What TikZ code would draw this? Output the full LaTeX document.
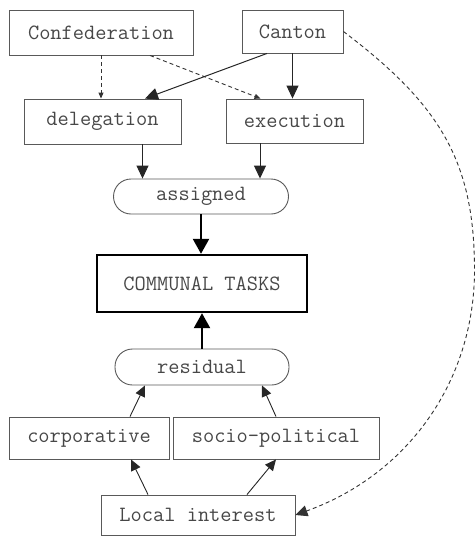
\documentclass[tikz,border=0pt]{standalone}
\usetikzlibrary{arrows.meta}
\definecolor{ink}{gray}{0.28}
\definecolor{edge}{gray}{0.35}
\tikzset{
  box/.style={draw=edge, line width=0.9pt, rectangle, inner sep=0pt, text=ink,
              font=\ttfamily\fontsize{21.8}{24}\selectfont},
  pill/.style={box, rounded corners=17.5pt},
  bigbox/.style={box, draw=black, line width=2.4pt},
  arr/.style={draw=black!85, line width=1pt, -{Triangle[length=13pt,width=12pt]}},
  thinarr/.style={draw=black!85, line width=0.9pt, -{Triangle[length=11pt,width=10pt]}},
  thickarr/.style={draw=black, line width=2.4pt, -{Triangle[length=15pt,width=16pt]}},
  dasharr/.style={draw=black!80, line width=0.9pt, dash pattern=on 4pt off 3pt,
                  -{Triangle[length=6pt,width=5pt]}},
  curvearr/.style={draw=black!80, line width=0.9pt, dash pattern=on 4pt off 3pt,
                  -{Triangle[length=12pt,width=11pt]}},
}
\begin{document}
\begin{tikzpicture}[x=1pt,y=-1pt]
\useasboundingbox (0,0) rectangle (476,536);
\node[box, minimum width=184pt, minimum height=45pt] (conf) at (101,32.5) {Confederation};
\node[box, minimum width=101pt, minimum height=43pt] (canton) at (292.5,31.5) {Canton};
\node[box, minimum width=157pt, minimum height=45pt] (del) at (102.5,121.5) {delegation};
\node[box, minimum width=137pt, minimum height=44pt] (exec) at (294.5,121) {execution};
\node[pill, minimum width=175pt, minimum height=35pt] (asg) at (201,196.5) {assigned};
\node[bigbox, minimum width=210pt, minimum height=57pt] (ct) at (202,283.5) {COMMUNAL TASKS};
\node[pill, minimum width=174pt, minimum height=36pt] (res) at (202,367) {residual};
\node[box, minimum width=160pt, minimum height=42pt] (corp) at (89,438) {corporative};
\node[box, minimum width=206pt, minimum height=42pt] (socio) at (276,438) {socio-political};
\node[box, minimum width=194pt, minimum height=40pt] (li) at (198,515) {Local interest};

\draw[dasharr] (conf.south) -- (conf.south |- del.north);
\draw[dasharr] ([xshift=49pt]conf.south) -- ([xshift=-34pt]exec.north);
\draw[arr] ([xshift=-25.5pt]canton.south) -- ([xshift=42.5pt]del.north);
\draw[arr] (canton.south) -- (canton.south |- exec.north);
\draw[arr] ([xshift=40pt]del.south) -- ([xshift=40pt]del.south |- asg.north);
\draw[arr] ([xshift=-34.5pt]exec.south) -- ([xshift=-34.5pt]exec.south |- asg.north);
\draw[thickarr] (asg.south) -- (asg.south |- ct.north);
\draw[thickarr] (res.north) -- (res.north |- ct.south);
\draw[thinarr] ([xshift=41pt]corp.north) -- ([xshift=-57pt]res.south);
\draw[thinarr] (socio.north) -- ([xshift=60pt]res.south);
\draw[thinarr] ([xshift=-50pt]li.north) -- ([xshift=42pt]corp.south);
\draw[thinarr] ([xshift=49pt]li.north) -- (socio.south);
\coordinate (bend) at (474.5,270);
\draw[curvearr] (canton.east) .. controls (439,104) and (474.5,160) .. (bend)
   .. controls (474.5,380) and (409,474) .. (li.east);
\end{tikzpicture}
\end{document}
